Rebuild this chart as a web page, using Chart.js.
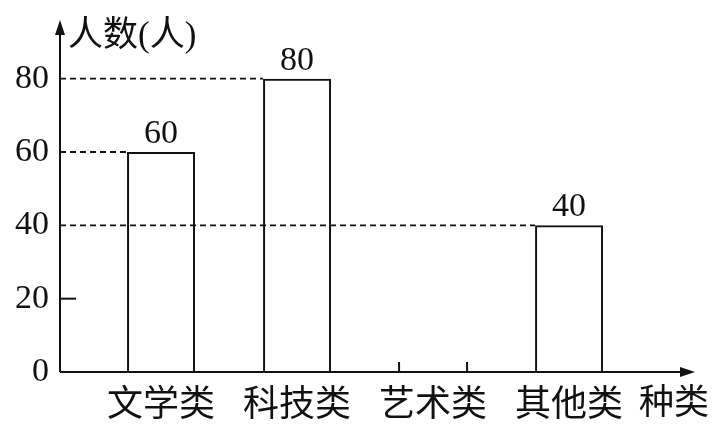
<!DOCTYPE html>
<html>
<head>
<meta charset="utf-8">
<script src="https://cdn.jsdelivr.net/npm/chart.js@4"></script>
<style>
  html, body { margin: 0; padding: 0; background: #fff; }
  #wrap { width: 724px; height: 436px; }
</style>
</head>
<body>
<div id="wrap"><canvas id="chart" width="724" height="436"></canvas></div>
<script>
// data
const categories = ['文学类', '科技类', '艺术类', '其他类'];
const counts = [60, 80, null, 40];   // 艺术类 left blank in the original
const yTicks = [0, 20, 40, 60, 80];
const yTitle = '人数(人)';
const xTitle = '种类';

const FONT = '"Liberation Serif", "Noto Sans CJK SC", serif';
const INK = '#111';

// axes with arrows, dashed guide lines, value labels, stubs for the blank bar
const sketchPlugin = {
    id: 'sketch',
    beforeDatasetsDraw(chart) {
        const ctx = chart.ctx;
        const y = chart.scales.y;
        const meta = chart.getDatasetMeta(0);
        const left = chart.chartArea.left;
        ctx.save();
        ctx.strokeStyle = INK;
        ctx.lineWidth = 1.8;
        ctx.setLineDash([6, 4]);
        counts.forEach((v, i) => {
            if (v == null) return;
            const bar = meta.data[i];
            const py = y.getPixelForValue(v);
            ctx.beginPath();
            ctx.moveTo(left, py);
            ctx.lineTo(bar.x - bar.width / 2, py);
            ctx.stroke();
        });
        ctx.restore();
    },
    afterDatasetsDraw(chart) {
        const ctx = chart.ctx;
        const x = chart.scales.x, y = chart.scales.y;
        const meta = chart.getDatasetMeta(0);
        const area = chart.chartArea;
        const x0 = area.left, y0 = y.getPixelForValue(0);
        ctx.save();
        ctx.strokeStyle = INK;
        ctx.fillStyle = INK;
        ctx.lineWidth = 2;

        // y axis + arrow
        ctx.beginPath();
        ctx.moveTo(x0, y0);
        ctx.lineTo(x0, area.top + 10);
        ctx.stroke();
        ctx.beginPath();
        ctx.moveTo(x0, area.top);
        ctx.lineTo(x0 - 5, area.top + 15);
        ctx.lineTo(x0 + 5, area.top + 15);
        ctx.closePath();
        ctx.fill();

        // x axis + arrow
        ctx.beginPath();
        ctx.moveTo(x0, y0);
        ctx.lineTo(area.right - 10, y0);
        ctx.stroke();
        ctx.beginPath();
        ctx.moveTo(area.right, y0);
        ctx.lineTo(area.right - 15, y0 - 5);
        ctx.lineTo(area.right - 15, y0 + 5);
        ctx.closePath();
        ctx.fill();

        // small tick at 20
        const p20 = y.getPixelForValue(20);
        ctx.beginPath();
        ctx.moveTo(x0, p20);
        ctx.lineTo(x0 + 16, p20);
        ctx.stroke();

        // stubs where the blank bar goes
        const halfW = meta.data[0].width / 2;
        counts.forEach((v, i) => {
            if (v != null) return;
            const cx = x.getPixelForValue(i + 1);
            [cx - halfW, cx + halfW].forEach(px => {
                ctx.beginPath();
                ctx.moveTo(px, y0);
                ctx.lineTo(px, y0 - 10);
                ctx.stroke();
            });
        });

        // value labels
        ctx.font = '34px ' + FONT;
        ctx.textAlign = 'center';
        ctx.textBaseline = 'alphabetic';
        counts.forEach((v, i) => {
            if (v == null) return;
            const bar = meta.data[i];
            ctx.fillText(String(v), bar.x, bar.y - 9);
        });

        // axis titles
        ctx.font = '35px ' + FONT;
        ctx.textAlign = 'left';
        ctx.textBaseline = 'middle';
        ctx.fillText(yTitle, x0 + 8, area.top + 17);
        ctx.fillText(xTitle, 639, 405);
        ctx.restore();
    }
};

new Chart(document.getElementById('chart').getContext('2d'), {
    type: 'bar',
    data: {
        datasets: [{
            data: counts.map((v, i) => ({ x: i + 1, y: v })),
            backgroundColor: 'rgba(0,0,0,0)',
            borderColor: INK,
            borderWidth: 2,
            borderSkipped: 'start',
            barPercentage: 0.5,
            categoryPercentage: 1
        }]
    },
    options: {
        responsive: false,
        animation: false,
        layout: { padding: { top: 20, right: 29, left: 0, bottom: 0 } },
        plugins: { legend: { display: false }, tooltip: { enabled: false } },
        scales: {
            x: {
                type: 'linear',
                offset: false,
                min: 0.257,
                max: 4.926,
                grid: { display: false, drawTicks: false },
                border: { display: false },
                afterBuildTicks: s => { s.ticks = categories.map((c, i) => ({ value: i + 1 })); },
                afterFit: s => { s.height = 64; s.paddingLeft = 0; s.paddingRight = 0; },
                ticks: {
                    padding: 13,
                    color: INK,
                    font: { family: FONT, size: 36 },
                    callback: v => categories[v - 1]
                }
            },
            y: {
                min: 0,
                max: 96,
                grid: { display: false, drawTicks: false },
                border: { display: false },
                afterBuildTicks: s => { s.ticks = yTicks.map(v => ({ value: v })); },
                afterFit: s => { s.width = 60; s.paddingTop = 0; s.paddingBottom = 0; },
                ticks: {
                    padding: 11,
                    color: INK,
                    font: { family: FONT, size: 34 }
                }
            }
        }
    },
    plugins: [sketchPlugin]
});
</script>
</body>
</html>
